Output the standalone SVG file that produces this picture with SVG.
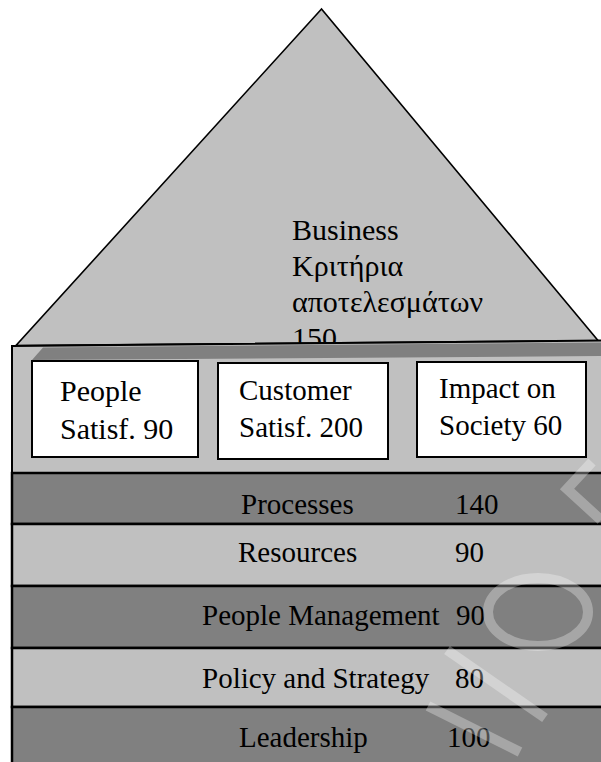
<svg xmlns="http://www.w3.org/2000/svg" width="601" height="762" viewBox="0 0 601 762">
  <style>
    .light { fill: #c0c0c0; }
    .dark { fill: #808080; }
    .band { stroke: #000; stroke-width: 2.5; }
    .box { fill: #fff; stroke: #000; stroke-width: 2; }
    .t { font-family: "Liberation Serif", "Times New Roman", serif; fill: #000; }
    .wm { fill: none; stroke: #fff; stroke-opacity: 0.3; stroke-width: 10; }
  </style>

  <!-- roof -->
  <g id="roof">
    <polygon points="321.5,9 16,345.5 598,340.5" class="light" stroke="#000" stroke-width="1.6" stroke-linejoin="miter"/>
    <text class="t" font-size="30">
      <tspan x="292" y="240">Business</tspan>
      <tspan x="292" y="276">Κριτήρια</tspan>
      <tspan x="292" y="312">αποτελεσμάτων</tspan>
      <tspan x="292" y="348">150</tspan>
    </text>
  </g>

  <!-- house body with result boxes -->
  <g id="body">
    <polygon points="12,346 610,340.5 610,770 12,770" class="light" stroke="#000" stroke-width="2"/>
    <polygon points="43,347.5 601,342.5 601,356 32,360" class="dark"/>
  </g>

  <g id="people-satisfaction">
    <rect x="32" y="361" width="166" height="96" class="box"/>
    <text class="t" font-size="30">
      <tspan x="60" y="401">People</tspan>
      <tspan x="60" y="439">Satisf. 90</tspan>
    </text>
  </g>

  <g id="customer-satisfaction">
    <rect x="218" y="363" width="170" height="96" class="box"/>
    <text class="t" font-size="29">
      <tspan x="239" y="400">Customer</tspan>
      <tspan x="239" y="437">Satisf. 200</tspan>
    </text>
  </g>

  <g id="impact-on-society">
    <rect x="417" y="362" width="169" height="95" class="box"/>
    <text class="t" font-size="29">
      <tspan x="439" y="398">Impact on</tspan>
      <tspan x="439" y="435">Society 60</tspan>
    </text>
  </g>

  <!-- enabler bands -->
  <g id="processes">
    <rect x="12" y="473" width="600" height="51" class="dark band"/>
    <text class="t" font-size="29" y="514"><tspan x="241">Processes</tspan><tspan x="455">140</tspan></text>
  </g>
  <g id="resources">
    <rect x="12" y="524" width="600" height="62" class="light band"/>
    <text class="t" font-size="29" y="562"><tspan x="238">Resources</tspan><tspan x="455">90</tspan></text>
  </g>
  <g id="people-management">
    <rect x="12" y="586" width="600" height="62" class="dark band"/>
    <text class="t" font-size="29" y="625"><tspan x="202">People Management</tspan><tspan x="456">90</tspan></text>
  </g>
  <g id="policy-and-strategy">
    <rect x="12" y="648" width="600" height="59" class="light band"/>
    <text class="t" font-size="29" y="688"><tspan x="202">Policy and Strategy</tspan><tspan x="455">80</tspan></text>
  </g>
  <g id="leadership">
    <rect x="12" y="707" width="600" height="70" class="dark band"/>
    <text class="t" font-size="29" y="747"><tspan x="239">Leadership</tspan><tspan x="447">100</tspan></text>
  </g>

  <g id="connectors"/>

  <!-- faint watermark strokes -->
  <g id="watermark" class="wm">
    <polyline points="592,462 567,489 601,520"/>
    <ellipse cx="538" cy="612" rx="50" ry="34"/>
    <line x1="447" y1="650" x2="545" y2="718"/>
    <line x1="428" y1="706" x2="520" y2="752"/>
  </g>
</svg>
